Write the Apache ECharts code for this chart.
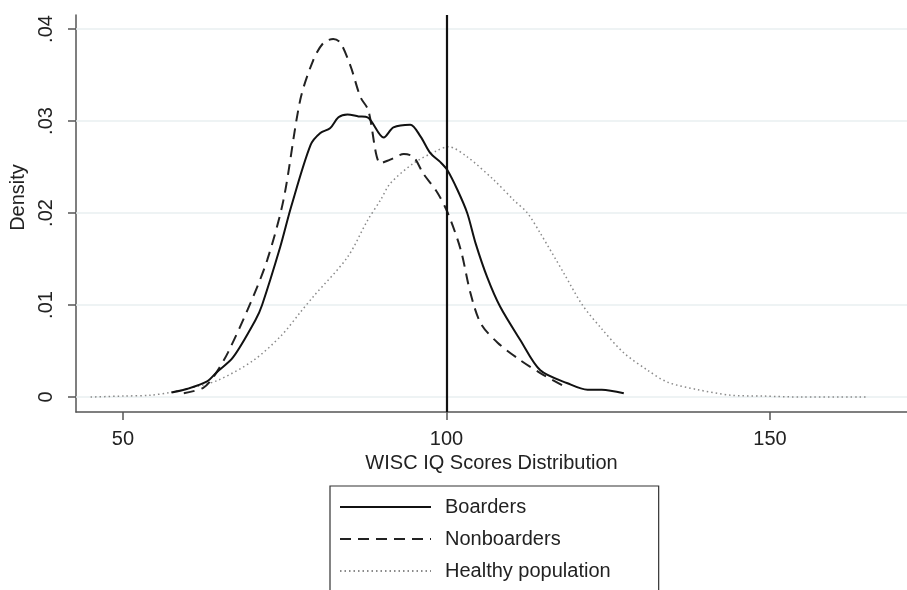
<!DOCTYPE html>
<html>
<head>
<meta charset="utf-8">
<script src="https://cdn.jsdelivr.net/npm/echarts@6/dist/echarts.min.js"></script>
<style>
  html, body { margin: 0; padding: 0; background: #fff; }
  #chart { width: 907px; height: 590px; }
</style>
</head>
<body>
<div id="chart"></div>
<script>
const xTicks = [50, 100, 150];
const yTicks = [0, 0.01, 0.02, 0.03, 0.04];
const refLine = 100;

const boardersX = [57.5, 60, 63, 64.5, 67, 70.5, 71.5, 74.3, 76, 79, 80.5, 82, 83.3, 84.7, 86.4, 87.8, 90.3, 91.8, 94.4, 96, 97.5, 99.1, 100.1, 101.7, 103.2, 104.5, 106.3, 108.3, 111.4, 114.5, 118.7, 121.8, 124, 127.4];
const boardersY = [.0005, .0009, .0017, .0027, .0043, .0084, .0100, .0163, .0207, .0274, .0287, .0292, .0304, .0307, .0305, .0304, .0282, .0293, .0296, .0283, .0265, .0255, .0247, .0225, .0200, .0167, .0130, .0098, .0062, .0029, .0015, .0008, .0008, .0004];

const nonboardersX = [59.4, 62.4, 64, 66.2, 69.7, 72.3, 74.8, 77.4, 79.4, 81, 82.5, 83.6, 85.2, 86.7, 87.9, 89.8, 91.3, 93.4, 94.9, 96.4, 98.6, 100.2, 102.2, 103.7, 105.3, 107.9, 111.4, 114.5, 118.1];
const nonboardersY = [.0004, .0010, .0022, .0048, .0102, .0149, .0214, .0323, .0366, .0385, .0389, .0385, .0359, .0326, .0312, .0254, .0258, .0264, .0261, .0243, .0222, .0200, .0160, .0113, .0080, .0059, .0040, .0026, .0012];

const healthyX = [45, 50, 54.3, 57.3, 60, 64.6, 70.2, 74.5, 77.4, 79.4, 84.7, 87.8, 89.8, 91.3, 94.9, 98.6, 100.3, 103.2, 107.3, 110.4, 112.5, 114.5, 118.1, 121, 124, 127.4, 131.1, 134.2, 138.8, 143.9, 149, 155, 165.1];
const healthyY = [0, .0001, .0002, .0005, .0009, .0018, .0040, .0067, .0092, .0109, .0152, .0192, .0214, .0232, .0254, .0268, .0272, .0261, .0236, .0214, .0200, .0178, .0135, .0100, .0074, .0048, .0029, .0016, .0008, .0002, .0001, 0, 0];

const pairs = (xs, ys) => xs.map((x, i) => [x, ys[i]]);

const font = "'Liberation Sans', Arial, sans-serif";
const chart = echarts.init(document.getElementById('chart'));

chart.setOption({
  animation: false,
  textStyle: { fontFamily: font },
  grid: { left: 76, right: 0, top: 15, bottom: 178 },
  xAxis: {
    type: 'value',
    min: 42.74,
    max: 171.17,
    name: 'WISC IQ Scores Distribution',
    nameLocation: 'middle',
    nameGap: 40,
    nameTextStyle: { fontSize: 20, color: '#222', fontFamily: font },
    axisLine: { onZero: false, lineStyle: { color: '#555', width: 1.5 } },
    axisTick: { customValues: xTicks, length: 8, lineStyle: { color: '#555', width: 1.5 } },
    axisLabel: { customValues: xTicks, fontSize: 20, color: '#222', margin: 17, fontFamily: font },
    splitLine: { show: false }
  },
  yAxis: {
    type: 'value',
    min: -0.00163,
    max: 0.04152,
    name: 'Density',
    nameLocation: 'middle',
    nameRotate: 90,
    nameGap: 48,
    nameTextStyle: { fontSize: 20, color: '#222', fontFamily: font, padding: [0, 0, 0, 32] },
    axisLine: { onZero: false, lineStyle: { color: '#555', width: 1.5 } },
    axisTick: { customValues: yTicks, length: 8, lineStyle: { color: '#555', width: 1.5 } },
    axisLabel: {
      customValues: yTicks,
      rotate: 90,
      fontSize: 20,
      color: '#222',
      margin: 20,
      fontFamily: font,
      formatter: v => v === 0 ? '0' : String(+v.toFixed(2)).replace(/^0/, '')
    },
    splitLine: { show: false }
  },
  legend: {
    orient: 'vertical',
    left: 330,
    top: 486,
    height: 100,
    data: ['Boarders', 'Nonboarders', 'Healthy population'],
    itemWidth: 91,
    itemHeight: 14,
    itemGap: 12,
    padding: [11, 48, 30, 9],
    borderColor: '#333',
    borderWidth: 1.2,
    borderRadius: 0,
    itemStyle: { color: 'rgba(0,0,0,0)', borderWidth: 0, opacity: 0 },
    textStyle: { fontSize: 20, color: '#222', fontFamily: font, padding: [0, 0, 0, 9] },
    selectedMode: false
  },
  series: [
    {
      name: 'grid',
      type: 'line',
      data: [],
      silent: true,
      z: 1,
      markLine: {
        silent: true,
        symbol: 'none',
        z: 1,
        label: { show: false },
        lineStyle: { color: '#e8eff1', width: 1.5, type: 'solid' },
        data: yTicks.map(v => ({ yAxis: v }))
      }
    },
    {
      name: 'Healthy population',
      type: 'line',
      data: pairs(healthyX, healthyY),
      symbol: 'none',
      smooth: 0.3,
      lineStyle: { color: '#8a8a8a', width: 1.5, type: [1.5, 3] },
      itemStyle: { color: '#8a8a8a' },
      z: 2
    },
    {
      name: 'Nonboarders',
      type: 'line',
      data: pairs(nonboardersX, nonboardersY),
      symbol: 'none',
      smooth: 0.3,
      lineStyle: { color: '#222', width: 2, type: [11, 7] },
      itemStyle: { color: '#222' },
      z: 3
    },
    {
      name: 'Boarders',
      type: 'line',
      data: pairs(boardersX, boardersY),
      symbol: 'none',
      smooth: 0.3,
      lineStyle: { color: '#111', width: 2 },
      itemStyle: { color: '#111' },
      z: 4,
      markLine: {
        silent: true,
        symbol: 'none',
        label: { show: false },
        lineStyle: { color: '#111', width: 2.2, type: 'solid' },
        data: [{ xAxis: refLine }]
      }
    }
  ]
});
</script>
</body>
</html>
